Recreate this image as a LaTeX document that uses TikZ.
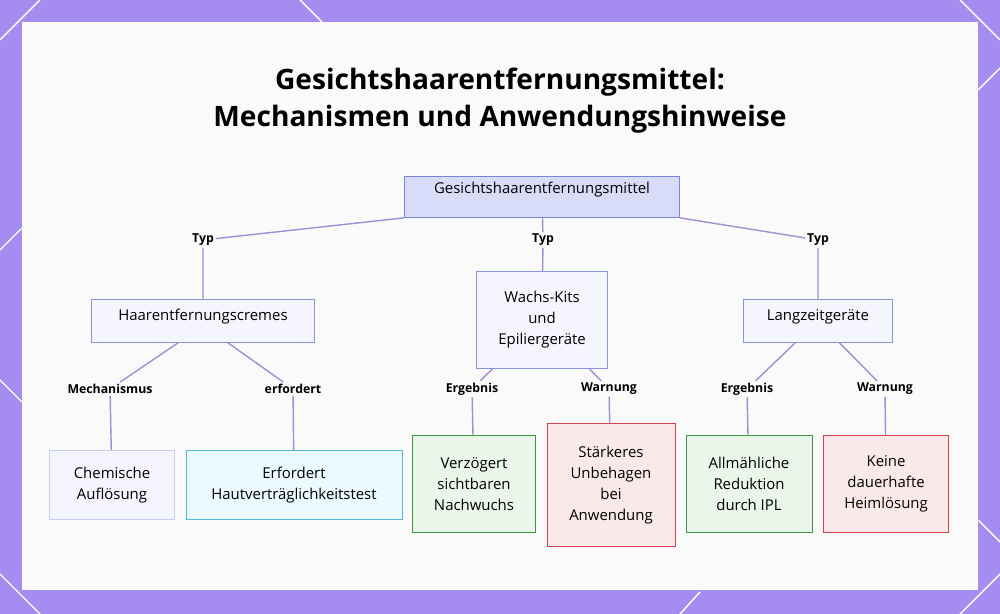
\documentclass[tikz,border=0pt]{standalone}
\usepackage{fontspec}
\setmainfont{Open Sans}
\usepackage{tikz}
\usetikzlibrary{positioning}
\definecolor{frame}{HTML}{A48CF0}
\definecolor{link}{HTML}{A48CD8}
\tikzstyle{box} = [rectangle, draw, align=center, inner sep=3pt, font=\fontsize{8.5}{12}\selectfont]
\tikzstyle{root} = [box, fill={rgb,255:red,216;green,220;blue,248}, draw={rgb,255:red,120;green,132;blue,216}]
\tikzstyle{group} = [box, fill={rgb,255:red,244;green,245;blue,253}, draw={rgb,255:red,138;green,148;blue,221}]
\tikzstyle{soft} = [box, fill={rgb,255:red,243;green,244;blue,253}, draw={rgb,255:red,200;green,204;blue,240}]
\tikzstyle{check} = [box, fill={rgb,255:red,234;green,250;blue,255}, draw={rgb,255:red,80;green,184;blue,216}]
\tikzstyle{good} = [box, fill={rgb,255:red,233;green,246;blue,233}, draw={rgb,255:red,58;green,154;blue,58}]
\tikzstyle{warn} = [box, fill={rgb,255:red,251;green,233;blue,234}, draw={rgb,255:red,208;green,64;blue,80}]
\tikzstyle{tag} = [font=\bfseries\fontsize{7}{8}\selectfont, inner sep=1pt]
\tikzstyle{arrow} = [link, thick]
\begin{document}
\begin{tikzpicture}[x=0.02cm, y=-0.02cm]
\useasboundingbox (0,0) rectangle (1000,614);
\fill[frame] (0,0) rectangle (1000,614);
\draw[white, thick] (0,40) -- (40,0) (0,574) -- (40,614) (960,0) -- (1000,40) (960,614) -- (1000,574)
  (0,250) -- (22,228) (0,380) -- (22,402) (978,90) -- (1000,68) (978,520) -- (1000,542)
  (300,0) -- (322,22) (680,614) -- (700,592);
\fill[white!96!gray] (22,22) rectangle (978,590);
\node[font=\bfseries\fontsize{16}{21}\selectfont, align=center] (title) at (500,101)
  {Gesichtshaarentfernungsmittel:\\Mechanismen und Anwendungshinweise};
% tree
\node (top) [root, minimum width=5.5cm, minimum height=0.82cm, text depth=0.35cm] at (542,197) {Gesichtshaarentfernungsmittel};
\node (typ_a) [tag] at (203,240) {Typ};
\node (typ_b) [tag] at (543,240) {Typ};
\node (typ_c) [tag] at (818,240) {Typ};
\node (cremes) [group, minimum width=4.46cm, minimum height=0.86cm, text depth=0.25cm] at (203,321) {Haarentfernungscremes};
\node (wachs) [group, minimum width=2.62cm, minimum height=1.94cm] at (542,320) {Wachs-Kits\\und\\Epiliergeräte};
\node (lang) [group, minimum width=2.98cm, minimum height=0.86cm, text depth=0.25cm] at (818,321) {Langzeitgeräte};
\draw [arrow] (top.south west) -- (typ_a) -- (cremes);
\draw [arrow] (top) -- (typ_b) -- (wachs);
\draw [arrow] (top.south east) -- (typ_c) -- (lang);
\node (mech) [tag] at (110,389) {Mechanismus};
\node (erf) [tag] at (293,389) {erfordert};
\node (erg_b) [tag] at (472,389) {Ergebnis};
\node (warn_b) [tag] at (609,389) {Warnung};
\node (erg_c) [tag] at (747,389) {Ergebnis};
\node (warn_c) [tag] at (885,389) {Warnung};
\node (chem) [soft, minimum width=2.5cm, minimum height=1.38cm] at (112,485) {Chemische\\Auflösung};
\node (haut) [check, minimum width=4.32cm, minimum height=1.38cm] at (294,485) {Erfordert\\Hautverträglichkeitstest};
\node (verz) [good, minimum width=2.46cm, minimum height=1.94cm] at (474,484) {Verzögert\\sichtbaren\\Nachwuchs};
\node (staerk) [warn, minimum width=2.56cm, minimum height=2.46cm] at (611,485) {Stärkeres\\Unbehagen\\bei\\Anwendung};
\node (allm) [good, minimum width=2.52cm, minimum height=1.94cm] at (749,484) {Allmähliche\\Reduktion\\durch IPL};
\node (keine) [warn, minimum width=2.5cm, minimum height=1.94cm] at (886,484) {Keine\\dauerhafte\\Heimlösung};
\draw [arrow] (cremes.south) ++(-25,0) coordinate (c1) -- (mech) -- (chem);
\draw [arrow] (cremes.south) ++(25,0) coordinate (c2) -- (erf) -- (haut);
\draw [arrow] (wachs) -- (erg_b) -- (verz);
\draw [arrow] (wachs) -- (warn_b) -- (staerk);
\draw [arrow] (lang) -- (erg_c) -- (allm);
\draw [arrow] (lang) -- (warn_c) -- (keine);
\end{tikzpicture}
\end{document}
